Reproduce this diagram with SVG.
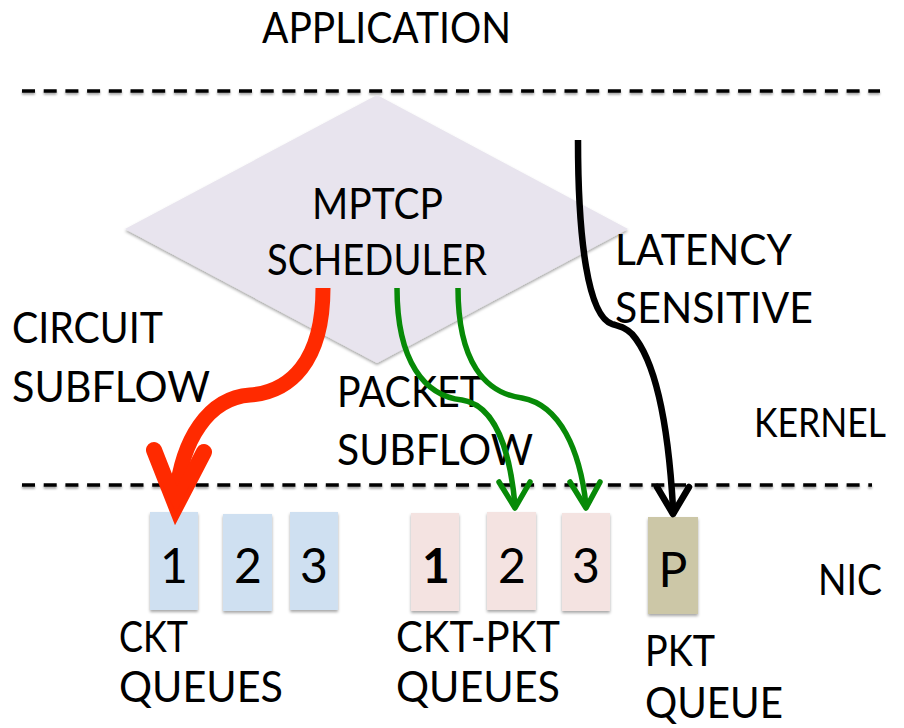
<svg xmlns="http://www.w3.org/2000/svg" width="904" height="728" viewBox="0 0 904 728">
<defs>
<filter id="sh" x="-10%" y="-10%" width="120%" height="125%">
<feDropShadow dx="0" dy="2" stdDeviation="1.5" flood-color="#000" flood-opacity="0.35"/>
</filter>
<filter id="lsh" filterUnits="userSpaceOnUse" x="0" y="0" width="904" height="728">
<feDropShadow dx="0" dy="2" stdDeviation="1.2" flood-color="#000" flood-opacity="0.35"/>
</filter>
<style>
text{font-family:Lato,"Noto Sans","Liberation Sans",sans-serif;fill:#000;}
.lbl{font-size:42px;}
.dig{font-size:48px;text-anchor:middle;}
.dash{stroke:#000;stroke-width:3.5;stroke-dasharray:13 8.7;fill:none;filter:url(#lsh);}
.blue{fill:#cfe0f1;filter:url(#sh);}
.pink{fill:#f4e3e1;filter:url(#sh);}
.khaki{fill:#ccc7a7;filter:url(#sh);}
.red{stroke:#ff2a00;stroke-width:15;fill:none;stroke-linecap:butt;stroke-linejoin:round;}
.green{stroke:#078a07;stroke-width:5.5;fill:none;stroke-linejoin:round;}
.black{stroke:#000;stroke-width:6.5;fill:none;stroke-linejoin:round;}
</style>
</defs>
<rect width="904" height="728" fill="#fff"/>

<g id="layers">
<line class="dash" x1="22" y1="91" x2="880" y2="91"/>
<line class="dash" x1="22" y1="485" x2="872" y2="485"/>
<text class="lbl" x="754" y="437" style="font-size:40px" textLength="132" lengthAdjust="spacingAndGlyphs">KERNEL</text>
<text class="lbl" x="262" y="43" textLength="249" lengthAdjust="spacingAndGlyphs">APPLICATION</text>
<text class="lbl" x="818" y="595" textLength="64" lengthAdjust="spacingAndGlyphs">NIC</text>
</g>

<g id="scheduler">
<polygon points="377,95 628,229 377,363 125,229" fill="#e8e4ee" filter="url(#sh)"/>
<text class="lbl" x="312" y="219" textLength="131" lengthAdjust="spacingAndGlyphs">MPTCP</text>
<text class="lbl" x="267" y="275" textLength="220" lengthAdjust="spacingAndGlyphs">SCHEDULER</text>
</g>

<g id="labels">
<text class="lbl" x="12" y="343" textLength="151" lengthAdjust="spacingAndGlyphs">CIRCUIT</text>
<text class="lbl" x="12" y="402" textLength="198" lengthAdjust="spacingAndGlyphs">SUBFLOW</text>
<text class="lbl" x="337" y="407" textLength="146" lengthAdjust="spacingAndGlyphs">PACKET</text>
<text class="lbl" x="337" y="465" textLength="196" lengthAdjust="spacingAndGlyphs">SUBFLOW</text>
<text class="lbl" x="615" y="265" textLength="177" lengthAdjust="spacingAndGlyphs">LATENCY</text>
<text class="lbl" x="615" y="323" textLength="198" lengthAdjust="spacingAndGlyphs">SENSITIVE</text>
</g>

<g id="ckt-queues">
<rect class="blue" x="150" y="512" width="48" height="98"/>
<text class="dig" x="174" y="583">1</text>
<rect class="blue" x="223" y="514" width="49" height="97"/>
<text class="dig" x="248" y="583">2</text>
<rect class="blue" x="290" y="512" width="48" height="98"/>
<text class="dig" x="314" y="583">3</text>
<text class="lbl" x="119" y="652" textLength="69" lengthAdjust="spacingAndGlyphs">CKT</text>
<text class="lbl" x="119" y="702" textLength="164" lengthAdjust="spacingAndGlyphs">QUEUES</text>
</g>

<g id="ckt-pkt-queues">
<rect class="pink" x="411" y="513" width="48" height="98"/>
<text class="dig" x="436" y="583" font-weight="bold">1</text>
<rect class="pink" x="487" y="512" width="49" height="98"/>
<text class="dig" x="512" y="583">2</text>
<rect class="pink" x="562" y="513" width="48" height="98"/>
<text class="dig" x="586" y="583">3</text>
<text class="lbl" x="396" y="652" textLength="164" lengthAdjust="spacingAndGlyphs">CKT-PKT</text>
<text class="lbl" x="396" y="702" textLength="164" lengthAdjust="spacingAndGlyphs">QUEUES</text>
</g>

<g id="pkt-queue">
<rect class="khaki" x="648" y="517" width="50" height="97"/>
<text class="dig" x="673" y="587">P</text>
<text class="lbl" x="645" y="666" textLength="70" lengthAdjust="spacingAndGlyphs">PKT</text>
<text class="lbl" x="645" y="718" textLength="138" lengthAdjust="spacingAndGlyphs">QUEUE</text>
</g>

<g id="connectors">
<path class="red" d="M323,288 C323,362 290,392 250,395 C208,398 182,440 176,496"/>
<path d="M154,450 L176,506 L204,452" stroke="#ff2a00" stroke-width="16" fill="none" stroke-linecap="round" stroke-linejoin="miter"/>
<path d="M163,486 L189,486 L176,513 Z" fill="#ff2a00"/>

<path class="green" d="M397,288 C397,362 425,396 462,400 C495,405 510,450 515,505"/>
<path class="green" d="M499,482 L515,508 L530,482" stroke-linecap="round"/>
<path class="green" d="M458,288 C458,362 485,393 522,398 C560,405 580,450 586,505"/>
<path class="green" d="M570,482 L586,508 L600,482" stroke-linecap="round"/>

<path class="black" d="M578,140 C578,240 588,316 612,324 C622,327 626,328 632,334 C655,360 668,420 673,508"/>
<path class="black" d="M657,487 L673,514 L689,487" stroke-linecap="round"/>
</g>
</svg>
